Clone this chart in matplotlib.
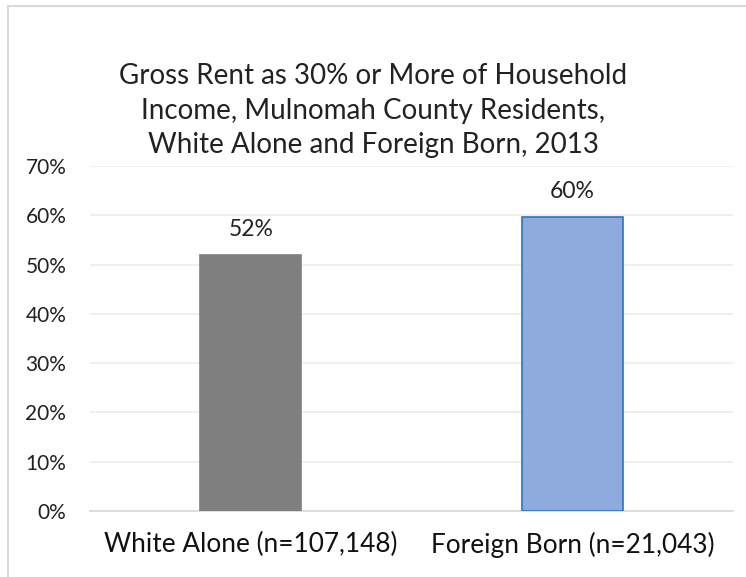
import matplotlib.pyplot as plt
from matplotlib.patches import Rectangle
import numpy as np

plt.rcParams['font.family'] = ['Lato', 'DejaVu Sans']

# data
categories = ["White Alone (n=107,148)", "Foreign Born (n=21,043)"]
values = [0.52, 0.596]
bar_colors = ["#7f7f7f", "#8faadc"]
edge_colors = ["#7f7f7f", "#2e75b6"]
yticks = [0, 0.1, 0.2, 0.3, 0.4, 0.5, 0.6, 0.7]

fig = plt.figure(figsize=(7.46, 5.77), dpi=100)
ax = fig.add_axes([0.1206, 0.1144, 0.862, 0.598])

x = np.arange(len(categories))
bars = ax.bar(x, values, width=0.314, color=bar_colors,
              edgecolor=edge_colors, linewidth=1.2, zorder=3)

for b, v in zip(bars, values):
    ax.text(b.get_x() + b.get_width() / 2, v + 0.038, f"{v:.0%}",
            ha="center", va="baseline", fontsize=16.5, color="#222222")

ax.set_xlim(-0.5, 1.5)
ax.set_ylim(0, 0.7)
ax.set_yticks(yticks)
ax.set_yticklabels([f"{t:.0%}" for t in yticks])
ax.set_xticks(x)
ax.set_xticklabels(categories)
ax.tick_params(axis="y", length=0, pad=17, labelsize=15, labelcolor="#222222")
ax.tick_params(axis="x", length=0, pad=15, labelsize=18.9, labelcolor="#111111")
ax.grid(axis="y", color="#ececec", linewidth=1.2, zorder=0)
for s in ["top", "right", "left"]:
    ax.spines[s].set_visible(False)
ax.spines["bottom"].set_color("#d9d9d9")
ax.spines["bottom"].set_linewidth(1.2)

fig.text(0.5, 0.808, "Gross Rent as 30% or More of Household\n"
         "Income, Mulnomah County Residents,\n"
         "White Alone and Foreign Born, 2013",
         ha="center", va="center", fontsize=20, linespacing=1.4,
         color="#222222")

# chart border (cut off on right and bottom like the reference)
fig.patches.append(Rectangle((8 / 746, -0.05), 1.2, (577 - 5.5) / 577 + 0.05,
                             transform=fig.transFigure, fill=False,
                             edgecolor="#d9d9d9", linewidth=1.5))

fig.savefig("out.png", dpi=100)
